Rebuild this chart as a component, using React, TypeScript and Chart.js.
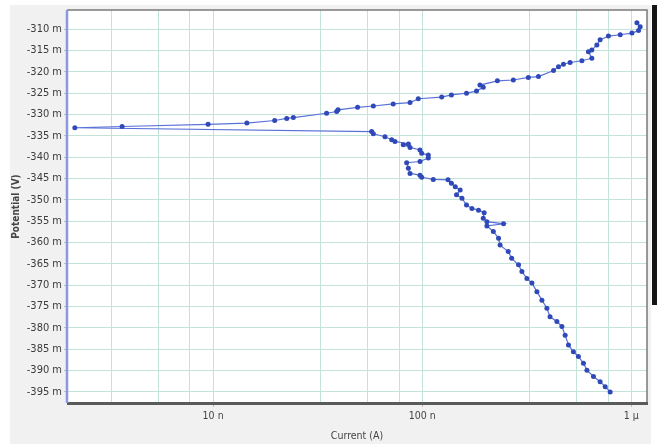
import React, { useEffect, useRef } from "react";
import { Chart, registerables } from "chart.js";

Chart.register(...registerables);

// Cathodic branch (scan start, most negative potential first)
const cathodicCurrentA = [
  7.93e-7, 7.51e-7, 7.1e-7, 6.6e-7, 6.14e-7, 5.91e-7, 5.59e-7, 5.29e-7, 5.01e-7, 4.83e-7,
  4.66e-7, 4.41e-7, 4.09e-7, 3.95e-7, 3.74e-7, 3.54e-7, 3.35e-7, 3.17e-7, 3.0e-7, 2.89e-7,
  2.68e-7, 2.58e-7, 2.36e-7, 2.32e-7, 2.19e-7, 2.04e-7, 2.45e-7, 2.04e-7, 1.96e-7, 1.98e-7,
  1.86e-7, 1.73e-7, 1.63e-7, 1.55e-7, 1.46e-7, 1.52e-7, 1.44e-7, 1.38e-7, 1.33e-7, 1.13e-7,
  9.95e-8, 9.76e-8, 8.75e-8, 8.59e-8, 8.43e-8, 9.76e-8, 1.07e-7, 1.07e-7, 9.95e-8, 9.76e-8,
  8.75e-8, 8.12e-8, 8.59e-8, 7.41e-8, 7.15e-8, 6.64e-8, 5.84e-8, 5.73e-8,
];
const cathodicPotentialMV = [
  -395.0, -393.8, -392.6, -391.4, -389.9, -388.3, -386.7, -385.6, -384.0, -381.7,
  -379.7, -378.5, -377.4, -375.4, -373.5, -371.5, -369.5, -368.4, -366.8, -365.2,
  -363.7, -362.1, -360.6, -359.0, -357.4, -356.1, -355.6, -355.1, -354.3, -353.0,
  -352.4, -352.0, -351.2, -349.6, -348.8, -347.7, -346.9, -346.1, -345.3, -345.2,
  -344.7, -344.2, -343.8, -342.6, -341.3, -341.0, -340.2, -339.5, -339.1, -338.3,
  -337.7, -337.1, -336.9, -336.3, -335.9, -335.2, -334.5, -334.0,
];

// Corrosion potential point
const ecorrCurrentA = [2.18e-9];
const ecorrPotentialMV = [-333.1];

// Anodic branch
const anodicCurrentA = [
  3.67e-9, 9.46e-9, 1.45e-8, 1.97e-8, 2.25e-8, 2.42e-8, 3.49e-8, 3.9e-8, 3.96e-8, 4.91e-8,
  5.84e-8, 7.27e-8, 8.75e-8, 9.58e-8, 1.24e-7, 1.38e-7, 1.63e-7, 1.82e-7, 1.96e-7, 1.89e-7,
  2.29e-7, 2.73e-7, 3.22e-7, 3.6e-7, 4.25e-7, 4.49e-7, 4.74e-7, 5.1e-7, 5.81e-7, 6.48e-7,
  6.24e-7, 6.48e-7, 6.85e-7, 7.1e-7, 7.78e-7, 8.86e-7, 1.008e-6, 1.084e-6, 1.104e-6, 1.065e-6,
];
const anodicPotentialMV = [
  -332.8, -332.3, -332.0, -331.4, -330.9, -330.7, -329.7, -329.3, -328.9, -328.3,
  -328.0, -327.5, -327.2, -326.3, -325.9, -325.4, -325.0, -324.5, -323.6, -323.1,
  -322.1, -321.9, -321.3, -321.1, -319.7, -318.8, -318.2, -317.8, -317.4, -316.8,
  -315.3, -314.9, -313.7, -312.5, -311.6, -311.3, -310.9, -310.3, -309.4, -308.5,
];

// Axes
const xMin = 2.0e-9;
const xMax = 1.19e-6;
const xMajorTicks = [1e-8, 1e-7, 1e-6];
const xMajorLabels = ["10 n", "100 n", "1 µ"];
const xMinorFactors = [3.25, 5.5, 7.75];
const xDecades = [1e-9, 1e-8, 1e-7];
const yMin = -397.6;
const yMax = -305.5;
const yTicks = [
  -310, -315, -320, -325, -330, -335, -340, -345, -350, -355, -360, -365, -370, -375, -380,
  -385, -390, -395,
];

const FONT = "'DejaVu Sans Condensed', 'DejaVu Sans', sans-serif";

export default function App() {
  const ref = useRef<HTMLCanvasElement | null>(null);

  useEffect(() => {
    const canvas = ref.current;
    if (!canvas) return;

    const currents = [...cathodicCurrentA, ...ecorrCurrentA, ...anodicCurrentA];
    const potentials = [...cathodicPotentialMV, ...ecorrPotentialMV, ...anodicPotentialMV];
    const points = currents.map((c, i) => ({ x: c, y: potentials[i] }));

    const xGridValues: number[] = [];
    xDecades.forEach((d) => xMinorFactors.forEach((f) => xGridValues.push(d * f)));
    xMajorTicks.forEach((v) => xGridValues.push(v));
    const xAll = xGridValues.filter((v) => v >= xMin && v <= xMax).sort((a, b) => a - b);
    const isMajor = (v: number) => xMajorTicks.some((m) => Math.abs(m - v) / m < 1e-6);

    const bgPlugin = {
      id: "bg",
      beforeDraw(chart: any) {
        const { ctx, chartArea } = chart;
        ctx.save();
        ctx.fillStyle = "#ffffff";
        ctx.fillRect(0, 0, 657, 444);
        ctx.fillStyle = "#f1f1f1";
        ctx.fillRect(10, 5, 641, 439);
        ctx.fillStyle = "#ffffff";
        ctx.fillRect(chartArea.left, chartArea.top, chartArea.right - chartArea.left, chartArea.bottom - chartArea.top);
        ctx.fillStyle = "#151515";
        ctx.fillRect(652, 5, 5, 300);
        ctx.restore();
      },
      afterDraw(chart: any) {
        const { ctx, chartArea } = chart;
        const { left, right, top, bottom } = chartArea;
        ctx.save();
        ctx.strokeStyle = "#7a7a7a";
        ctx.lineWidth = 1.5;
        ctx.beginPath();
        ctx.moveTo(left, top);
        ctx.lineTo(right, top);
        ctx.lineTo(right, bottom);
        ctx.stroke();
        ctx.strokeStyle = "#5a5a5a";
        ctx.lineWidth = 3;
        ctx.beginPath();
        ctx.moveTo(left, bottom + 0.5);
        ctx.lineTo(right + 1, bottom + 0.5);
        ctx.stroke();
        ctx.strokeStyle = "#8c98e4";
        ctx.lineWidth = 2.5;
        ctx.beginPath();
        ctx.moveTo(left, top);
        ctx.lineTo(left, bottom);
        ctx.stroke();
        ctx.restore();
      },
    };

    const chart = new Chart(canvas, {
      type: "scatter",
      data: {
        datasets: [
          {
            data: points,
            showLine: true,
            borderColor: "#5a72d8",
            borderWidth: 1.2,
            pointRadius: 2.5,
            pointBackgroundColor: "#3049b8",
            pointBorderColor: "#3049b8",
            pointBorderWidth: 0,
            tension: 0,
          },
        ],
      },
      options: {
        animation: false,
        responsive: false,
        devicePixelRatio: 1,
        layout: { padding: { left: 10, top: 10, right: 10, bottom: 0 } },
        plugins: { legend: { display: false }, tooltip: { enabled: false } },
        scales: {
          x: {
            type: "logarithmic",
            min: xMin,
            max: xMax,
            afterBuildTicks: (scale: any) => {
              scale.ticks = xAll.map((v) => ({ value: v, major: false }));
            },
            afterFit: (scale: any) => {
              scale.height = 41;
            },
            ticks: {
              autoSkip: false,
              maxRotation: 0,
              padding: 3,
              color: "#444",
              font: { family: FONT, size: 10.5 },
              callback: (value: any) => {
                const idx = xMajorTicks.findIndex((m) => Math.abs(m - value) / m < 1e-6);
                return idx >= 0 ? xMajorLabels[idx] : "";
              },
            },
            grid: {
              color: "#c3e2d8",
              lineWidth: 1,
              tickLength: 4,
              tickColor: (ctx: any) => (ctx.tick && isMajor(ctx.tick.value) ? "#bdbdbd" : "rgba(0,0,0,0)"),
            },
            border: { display: false },
            title: {
              display: true,
              text: "Current (A)",
              color: "#444",
              font: { family: FONT, size: 10.5 },
              padding: { top: 0, bottom: 1 },
            },
          },
          y: {
            type: "linear",
            min: yMin,
            max: yMax,
            afterBuildTicks: (scale: any) => {
              scale.ticks = yTicks.map((v) => ({ value: v }));
            },
            afterFit: (scale: any) => {
              scale.width = 57;
            },
            ticks: {
              autoSkip: false,
              padding: 2,
              color: "#3c3c3c",
              font: { family: FONT, size: 11 },
              callback: (value: any) => `${Math.round(value)} m`,
            },
            grid: {
              color: "#c3e2d8",
              lineWidth: 1,
              tickLength: 3,
              tickColor: "#bdbdbd",
            },
            border: { display: false },
            title: {
              display: true,
              text: "Potential (V)",
              color: "#444",
              font: { family: FONT, size: 10, weight: "bold" },
              padding: { top: 0, bottom: 1 },
            },
          },
        },
      },
      plugins: [bgPlugin],
    } as any);

    return () => chart.destroy();
  }, []);

  return (
    <div style={{ position: "absolute", left: 0, top: 0, width: 657, height: 444 }}>
      <canvas ref={ref} width={657} height={444} style={{ display: "block", width: 657, height: 444 }} />
    </div>
  );
}
